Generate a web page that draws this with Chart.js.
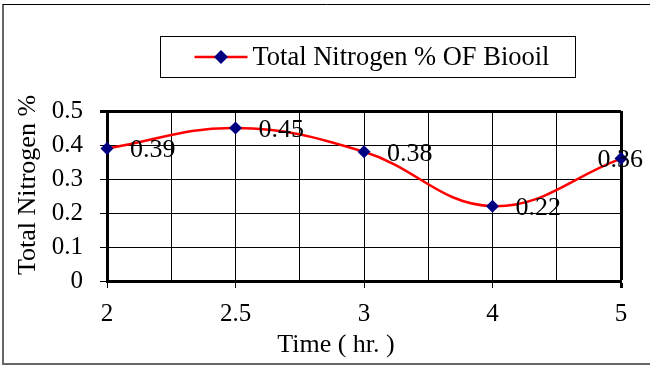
<!DOCTYPE html>
<html>
<head>
<meta charset="utf-8">
<script src="https://cdn.jsdelivr.net/npm/chart.js@4.4.0/dist/chart.umd.min.js"></script>
<style>
html, body { margin: 0; padding: 0; background: #fff; }
</style>
</head>
<body>
<canvas id="myChart" width="650" height="366"></canvas>
<script>
// chart data
var timeLabels = ['2', '2.5', '3', '4', '5'];
var nitrogenValues = [0.39, 0.45, 0.38, 0.22, 0.36];
var seriesName = 'Total Nitrogen % OF Biooil';
var xTitle = 'Time ( hr. )';
var yTitle = 'Total Nitrogen %';

var FONT = "'Liberation Serif', 'Times New Roman', serif";

// points placed on category index so the axis is evenly spaced like Excel
var points = [];
for (var i = 0; i < nitrogenValues.length; i++) {
    points.push({x: i, y: nitrogenValues[i]});
}

// frame, legend box, axis titles and value labels
var decorPlugin = {
    id: 'decor',
    afterDatasetsDraw: function(chart) {
        var ctx = chart.ctx;
        var meta = chart.getDatasetMeta(0);
        ctx.save();
        ctx.font = '26px ' + FONT;
        ctx.fillStyle = '#000';
        ctx.textBaseline = 'middle';
        ctx.textAlign = 'left';
        meta.data.forEach(function(pt, idx) {
            var txt = String(nitrogenValues[idx]);
            var w = ctx.measureText(txt).width;
            var x = Math.min(pt.x + 23, chart.width - w - 7);
            ctx.fillText(txt, x, pt.y + 2);
        });
        ctx.restore();
    },
    afterDraw: function(chart) {
        var ctx = chart.ctx;
        var ca = chart.chartArea;
        ctx.save();

        // outer frame
        ctx.strokeStyle = '#666';
        ctx.lineWidth = 2;
        ctx.beginPath();
        ctx.moveTo(3, 4); ctx.lineTo(3, 365);
        ctx.moveTo(3, 364); ctx.lineTo(650, 364);
        ctx.stroke();
        ctx.strokeStyle = '#000';
        ctx.lineWidth = 1;
        ctx.beginPath();
        ctx.moveTo(3, 4.5); ctx.lineTo(650, 4.5);
        ctx.stroke();

        // legend
        ctx.font = '26.5px ' + FONT;
        var tw = ctx.measureText(seriesName).width;
        var padL = 34, lineLen = 53, gap = 5, padR = 26;
        var boxW = padL + lineLen + gap + tw + padR;
        var cx = (ca.left + ca.right) / 2 + 3;
        var bx = Math.round(cx - boxW / 2) + 0.5;
        var by = 36.5, bh = 41;
        ctx.strokeStyle = '#000';
        ctx.lineWidth = 1;
        ctx.strokeRect(bx, by, boxW, bh);
        var ly = by + bh / 2;
        ctx.strokeStyle = '#ff0000';
        ctx.lineWidth = 2.5;
        ctx.beginPath();
        ctx.moveTo(bx + padL, ly); ctx.lineTo(bx + padL + lineLen, ly);
        ctx.stroke();
        var mx = bx + padL + lineLen / 2;
        ctx.fillStyle = '#000080';
        ctx.beginPath();
        ctx.moveTo(mx, ly - 7); ctx.lineTo(mx + 7, ly); ctx.lineTo(mx, ly + 7); ctx.lineTo(mx - 7, ly);
        ctx.closePath();
        ctx.fill();
        ctx.fillStyle = '#000';
        ctx.textBaseline = 'middle';
        ctx.textAlign = 'left';
        ctx.fillText(seriesName, bx + padL + lineLen + gap, ly + 1);

        // axis titles
        ctx.font = '26px ' + FONT;
        ctx.textAlign = 'center';
        ctx.fillText(xTitle, (ca.left + ca.right) / 2 - 28, 345);
        ctx.translate(28, (ca.top + ca.bottom) / 2 - 11);
        ctx.rotate(-Math.PI / 2);
        ctx.fillText(yTitle, 0, 0);
        ctx.restore();
    }
};

var config = {
    type: 'line',
    data: {
        datasets: [{
            label: seriesName,
            data: points,
            borderColor: '#ff0000',
            borderWidth: 2.5,
            tension: 0.4,
            pointStyle: 'rectRot',
            pointRadius: 6.5,
            pointBackgroundColor: '#000080',
            pointBorderColor: '#000080',
            pointBorderWidth: 0,
            clip: false
        }]
    },
    options: {
        responsive: false,
        animation: false,
        events: [],
        layout: {
            padding: {top: 111, right: 29, bottom: 0, left: 0}
        },
        plugins: {
            legend: {display: false},
            tooltip: {enabled: false}
        },
        scales: {
            x: {
                type: 'linear',
                min: 0,
                max: timeLabels.length - 1,
                ticks: {
                    stepSize: 0.5,
                    autoSkip: false,
                    maxRotation: 0,
                    color: '#000',
                    padding: 11,
                    font: {family: FONT, size: 25},
                    callback: function(v) {
                        return Number.isInteger(v) ? timeLabels[v] : '';
                    }
                },
                grid: {
                    color: '#000',
                    lineWidth: function(c) {
                        return c.tick && c.tick.value === timeLabels.length - 1 ? 3 : 1;
                    },
                    tickLength: 7,
                    tickColor: function(c) {
                        return c.tick && Number.isInteger(c.tick.value) ? '#000' : 'rgba(0,0,0,0)';
                    }
                },
                border: {color: '#000', width: 3},
                afterFit: function(s) { s.height = 85; }
            },
            y: {
                min: 0,
                max: 0.5,
                ticks: {
                    stepSize: 0.1,
                    color: '#000',
                    padding: 17,
                    font: {family: FONT, size: 25}
                },
                grid: {
                    color: '#000',
                    lineWidth: function(c) {
                        return c.tick && Math.abs(c.tick.value - 0.5) < 1e-9 ? 3 : 1;
                    },
                    tickLength: 7,
                    tickColor: '#000'
                },
                border: {color: '#000', width: 3},
                afterFit: function(s) { s.width = 107; }
            }
        }
    },
    plugins: [decorPlugin]
};

window.onload = function() {
    var ctx = document.getElementById('myChart').getContext('2d');
    window.myLine = new Chart(ctx, config);
};
</script>
</body>
</html>
